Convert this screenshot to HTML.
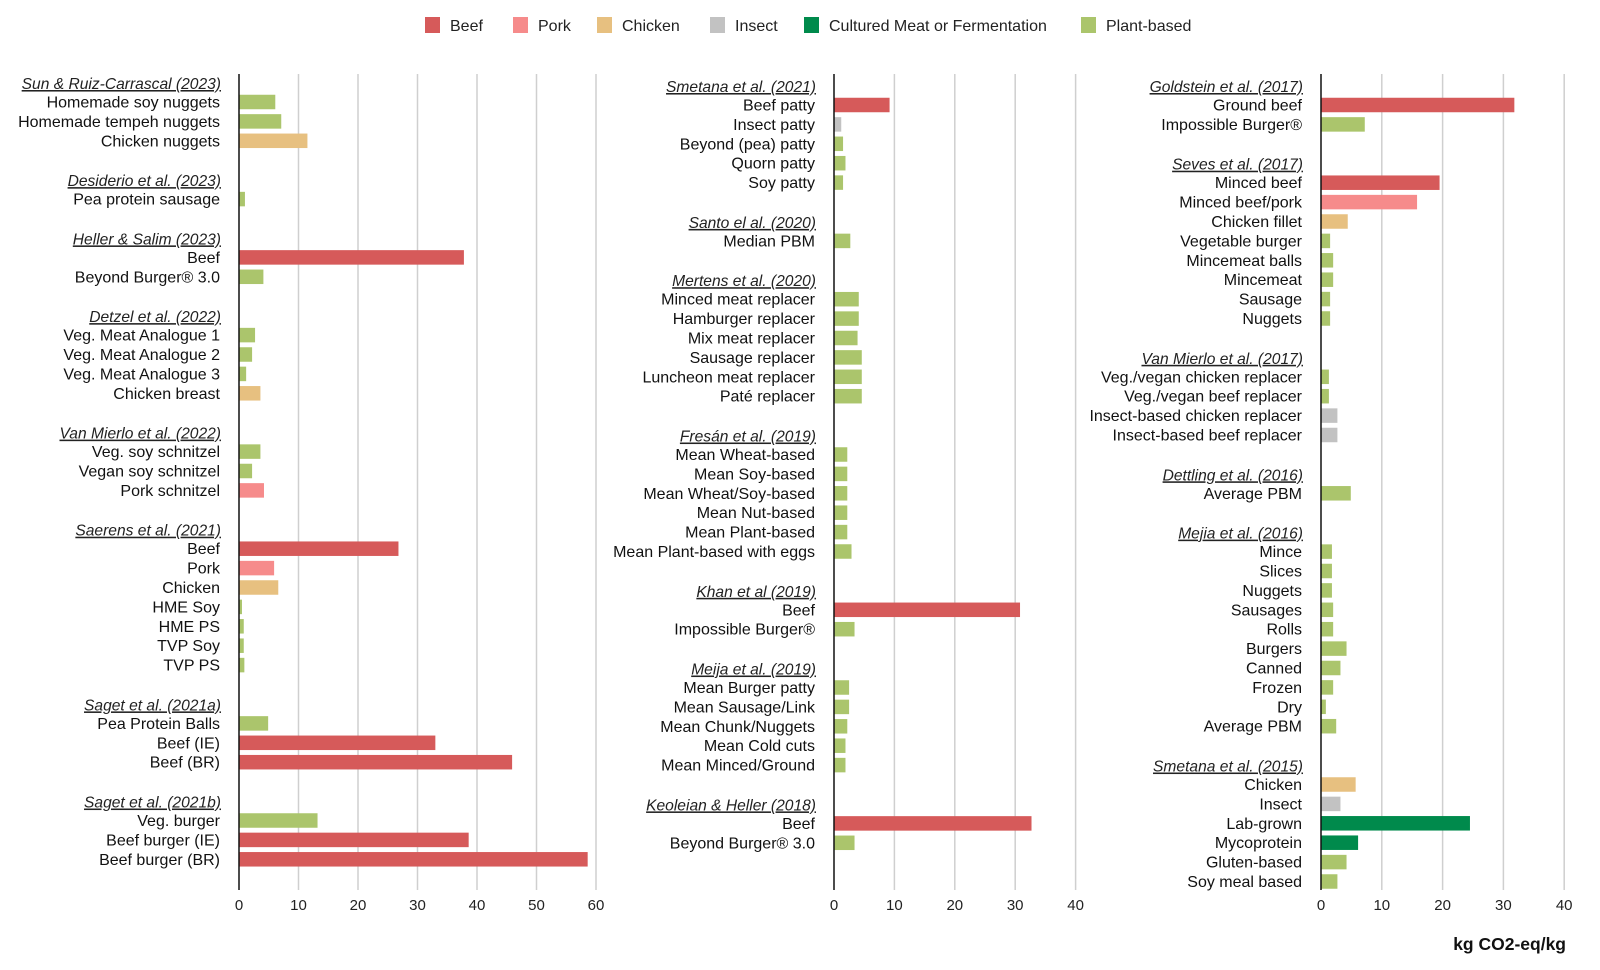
<!DOCTYPE html>
<html><head><meta charset="utf-8"><style>
html,body{margin:0;padding:0;background:#fff;width:1600px;height:970px;overflow:hidden}
svg{font-family:"Liberation Sans",Arial,sans-serif}
</style></head><body>
<svg id="chart" width="1600" height="970" viewBox="0 0 1600 970" xmlns="http://www.w3.org/2000/svg"></svg>
<script>
// ---- data ----
const colors = {beef:"#d65a5a", pork:"#f68b8b", chicken:"#e7c080", insect:"#c2c2c2", cultured:"#008a4c", plant:"#abc56c"};
const legendKeys = ["beef","pork","chicken","insect","cultured","plant"];
const legendLabels = ["Beef","Pork","Chicken","Insect","Cultured Meat or Fermentation","Plant-based"];
const p1Studies = ["Sun & Ruiz-Carrascal (2023)","Desiderio et al. (2023)","Heller & Salim (2023)","Detzel et al. (2022)","Van Mierlo et al. (2022)","Saerens et al. (2021)","Saget et al. (2021a)","Saget et al. (2021b)"];
const p1Labels = [["Homemade soy nuggets","Homemade tempeh nuggets","Chicken nuggets"],["Pea protein sausage"],["Beef","Beyond Burger® 3.0"],["Veg. Meat Analogue 1","Veg. Meat Analogue 2","Veg. Meat Analogue 3","Chicken breast"],["Veg. soy schnitzel","Vegan soy schnitzel","Pork schnitzel"],["Beef","Pork","Chicken","HME Soy","HME PS","TVP Soy","TVP PS"],["Pea Protein Balls","Beef (IE)","Beef (BR)"],["Veg. burger","Beef burger (IE)","Beef burger (BR)"]];
const p1Values = [[6.1,7.1,11.5],[1.0],[37.8,4.1],[2.7,2.2,1.2,3.6],[3.6,2.2,4.2],[26.8,5.9,6.6,0.5,0.8,0.8,0.9],[4.9,33.0,45.9],[13.2,38.6,58.6]];
const p1Types = [["plant","plant","chicken"],["plant"],["beef","plant"],["plant","plant","plant","chicken"],["plant","plant","pork"],["beef","pork","chicken","plant","plant","plant","plant"],["plant","beef","beef"],["plant","beef","beef"]];
const p2Studies = ["Smetana et al. (2021)","Santo el al. (2020)","Mertens et al. (2020)","Fresán et al. (2019)","Khan et al (2019)","Meija et al. (2019)","Keoleian & Heller (2018)"];
const p2Labels = [["Beef patty","Insect patty","Beyond (pea) patty","Quorn patty","Soy patty"],["Median PBM"],["Minced meat replacer","Hamburger replacer","Mix meat replacer","Sausage replacer","Luncheon meat replacer","Paté replacer"],["Mean Wheat-based","Mean Soy-based","Mean Wheat/Soy-based","Mean Nut-based","Mean Plant-based","Mean Plant-based with eggs"],["Beef","Impossible Burger®"],["Mean Burger patty","Mean Sausage/Link","Mean Chunk/Nuggets","Mean Cold cuts","Mean Minced/Ground"],["Beef","Beyond Burger® 3.0"]];
const p2Values = [[9.2,1.2,1.5,1.9,1.5],[2.7],[4.1,4.1,3.9,4.6,4.6,4.6],[2.2,2.2,2.2,2.2,2.2,2.9],[30.8,3.4],[2.5,2.5,2.2,1.9,1.9],[32.7,3.4]];
const p2Types = [["beef","insect","plant","plant","plant"],["plant"],["plant","plant","plant","plant","plant","plant"],["plant","plant","plant","plant","plant","plant"],["beef","plant"],["plant","plant","plant","plant","plant"],["beef","plant"]];
const p3Studies = ["Goldstein et al. (2017)","Seves et al. (2017)","Van Mierlo et al. (2017)","Dettling et al. (2016)","Mejia et al. (2016)","Smetana et al. (2015)"];
const p3Labels = [["Ground beef","Impossible Burger®"],["Minced beef","Minced beef/pork","Chicken fillet","Vegetable burger","Mincemeat balls","Mincemeat","Sausage","Nuggets"],["Veg./vegan chicken replacer","Veg./vegan beef replacer","Insect-based chicken replacer","Insect-based beef replacer"],["Average PBM"],["Mince","Slices","Nuggets","Sausages","Rolls","Burgers","Canned","Frozen","Dry","Average PBM"],["Chicken","Insect","Lab-grown","Mycoprotein","Gluten-based","Soy meal based"]];
const p3Values = [[31.8,7.2],[19.5,15.8,4.4,1.5,2.0,2.0,1.5,1.5],[1.3,1.3,2.7,2.7],[4.9],[1.8,1.8,1.8,2.0,2.0,4.2,3.2,2.0,0.8,2.5],[5.7,3.2,24.5,6.1,4.2,2.7]];
const p3Types = [["beef","plant"],["beef","pork","chicken","plant","plant","plant","plant","plant"],["plant","plant","insect","insect"],["plant"],["plant","plant","plant","plant","plant","plant","plant","plant","plant","plant"],["chicken","insect","cultured","cultured","plant","plant"]];
const p1Ticks = [0,10,20,30,40,50,60];
const p23Ticks = [0,10,20,30,40];

const svg = document.getElementById('chart');
const NS = "http://www.w3.org/2000/svg";
function mk(tag, attrs, parent){ const e=document.createElementNS(NS,tag); for(const k in attrs) e.setAttribute(k,attrs[k]); (parent||svg).appendChild(e); return e; }

// legend
const legX=[425,513,597,710,804,1081];
legendKeys.forEach((k,i)=>{
  const g=mk('g',{});
  
  
  mk('rect',{x:legX[i],y:17,width:15,height:16,fill:colors[k]},g);
  const t=mk('text',{x:legX[i]+25,y:31,'font-size':16,fill:'#222'},g);
  t.textContent=legendLabels[i];
});

const TOP=74, BOT=890, PITCH=19.4, T2R=18, GAP=40.3, BH=14.5;
function panel(id, axisX, pxPer10, ticks, titleY0, studies, labels, values, types){
  const g=mk('g',{});
  
  
  const sx=v=>axisX+v*pxPer10/10;
  ticks.forEach(t=>{
    if(t>0){ const l=mk('line',{x1:sx(t),x2:sx(t),y1:TOP,y2:BOT,stroke:'#cfcfcf','stroke-width':1.5},g);
        }
    const tx=mk('text',{x:sx(t),y:910,'font-size':15,'text-anchor':'middle',fill:'#222'},g);
     
    tx.textContent=t;
  });
  let y=titleY0;
  studies.forEach((s,i)=>{
    const tt=mk('text',{x:axisX-18,y:y+5,'font-size':15.6,'text-anchor':'end','font-style':'italic','text-decoration':'underline',fill:'#222'},g);
     
    tt.textContent=s;
    let ry=y+T2R;
    labels[i].forEach((lab,j)=>{
      const lt=mk('text',{x:axisX-19,y:ry+5.5,'font-size':16,'text-anchor':'end',fill:'#111'},g);
       
      lt.textContent=lab;
      const b=mk('rect',{x:axisX,y:ry-BH/2,width:Math.max(0,sx(values[i][j])-axisX),height:BH,fill:colors[types[i][j]]},g);
       
      ry+=PITCH;
    });
    y=ry-PITCH+GAP;
  });
  const ax=mk('line',{x1:axisX,x2:axisX,y1:TOP,y2:BOT,stroke:'#111','stroke-width':1.5},g);
   
}
panel('panel-left',239,59.5,p1Ticks,84,p1Studies,p1Labels,p1Values,p1Types);
panel('panel-middle',834,60.4,p23Ticks,87,p2Studies,p2Labels,p2Values,p2Types);
panel('panel-right',1321,60.8,p23Ticks,87,p3Studies,p3Labels,p3Values,p3Types);

const at=mk('text',{x:1566,y:950,'font-size':17.5,'font-weight':'bold','text-anchor':'end',fill:'#111'});


at.textContent='kg CO2-eq/kg';
</script>
</body></html>
